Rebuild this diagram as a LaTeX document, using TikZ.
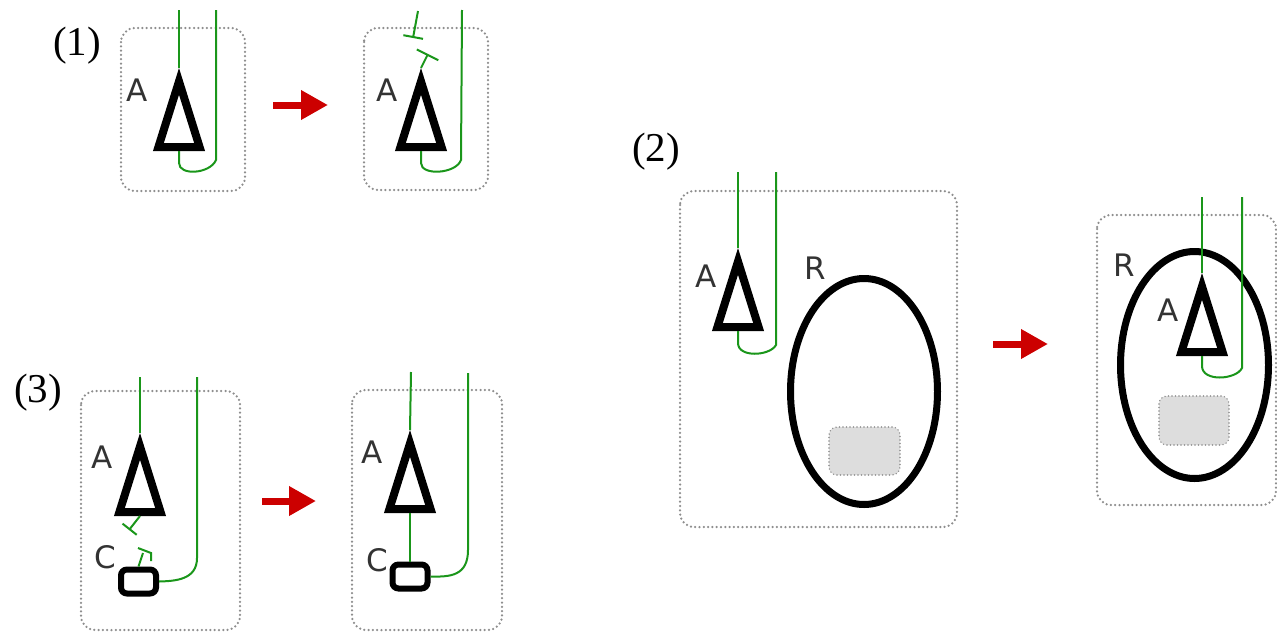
\documentclass[tikz,border=0pt]{standalone}
\usepackage{fontspec}
\setmainfont{Liberation Serif}
\newfontfamily\tagfont{DejaVu Sans}
\usetikzlibrary{arrows.meta,shapes.geometric}
\definecolor{neurite}{HTML}{1A961A}
\definecolor{push}{HTML}{CC0000}
\definecolor{framegray}{HTML}{8E8E8E}
\definecolor{slotgray}{HTML}{DDDDDD}
\definecolor{taggray}{HTML}{333333}

\begin{document}
\begin{tikzpicture}[
  x=1pt,y=-1pt,
  frame/.style={draw=framegray,line width=2.5pt,line cap=round,dash pattern=on 0pt off 4.3pt,rounded corners=14pt},
  wire/.style={draw=neurite,line width=2pt},
  block/.style={-{Bar[width=20pt]}},
  movearrow/.style={draw=push,line width=7pt,-{Triangle[length=27pt,width=28pt]}},
  cell/.style={draw=black,line width=8pt,line join=miter},
  tag/.style={font=\tagfont\fontsize{31}{31}\selectfont,text=taggray,inner sep=0pt},
  panel/.style={font=\fontsize{41}{41}\selectfont,inner sep=0pt},
  cbox/.style={draw=black,line width=6pt,rounded corners=6pt,minimum width=35pt,minimum height=24pt,inner sep=0pt},
  ring/.style={ellipse,draw=black,line width=7pt,minimum width=147pt,minimum height=226pt,inner sep=0pt},
  slot/.style={draw=framegray,fill=slotgray,line width=1.6pt,line cap=round,dash pattern=on 0pt off 3.5pt,rounded corners=8pt,minimum width=71pt,minimum height=48pt,inner sep=0pt},
  soma/.pic={
    \draw[cell] (0,13.4) -- (-20.6,79) -- (20.6,79) -- cycle;
    \coordinate (-top) at (0,0);
    \coordinate (-bot) at (0,83);
  }
]
\useasboundingbox (0,0) rectangle (1277,632);

% (1)
\node[panel] (p1) at (77,46) {(1)};
\draw[frame] (121,28) rectangle (245,191);
\draw[frame] (364,28) rectangle (488,190);
\pic (a1) at (179,68) {soma};
\pic (a1b) at (421,68) {soma};
\node[tag] (t1) at (137,90) {A};
\node[tag] (t1b) at (387,90) {A};
\coordinate (in1) at (179,10);
\coordinate (out1) at (216,10);
\coordinate (in1b) at (418,11);
\coordinate (out1b) at (462,10);
\draw[wire] (in1) -- (a1-top);
\draw[wire] (a1-bot) -- (179,163) .. controls (179,176) and (210,174) .. (216,160) -- (out1);
\draw[wire,block] (in1b) -- (413,38);
\draw[wire,-{Bar[width=24pt]}] (a1b-top) -- (428,54);
\draw[wire] (a1b-bot) -- (421,163) .. controls (421,176) and (456,174) .. (461,160) -- (out1b);
\draw[movearrow] (273,105) -- (328,105);

% (3)
\node[panel] (p3) at (38,393) {(3)};
\draw[frame] (81,391) rectangle (240,630);
\draw[frame] (352,390) rectangle (502,630);
\pic (a3) at (140,433) {soma};
\pic (a3b) at (410,430) {soma};
\node[tag] (t3) at (102,457) {A};
\node[tag] (t3b) at (372.5,452) {A};
\node[tag] (k3) at (105,557) {C};
\node[tag] (k3b) at (377.5,560) {C};
\node[cbox] (c3) at (138.5,581.5) {};
\node[cbox] (c3b) at (410,576.5) {};
\coordinate (in3) at (140,377);
\coordinate (out3) at (197,377);
\coordinate (in3b) at (411,372);
\coordinate (out3b) at (468,373);
\draw[wire] (in3) -- (a3-top);
\draw[wire,-{Bar[width=18pt]}] (a3-bot) -- ++(-11,14);
\draw[wire] (c3.north) -- (143,553);
\draw[wire] (138,548) -- (151,553) -- (151,561);
\draw[wire] (out3) -- (197,558) .. controls (197,580) and (175,581) .. (c3.east);
\draw[wire] (in3b) -- (a3b-top);
\draw[wire] (a3b-bot) -- (c3b.north);
\draw[wire] (out3b) -- (468,550) .. controls (468,576) and (450,577) .. (c3b.east);
\draw[movearrow] (262,501) -- (316,501);

% (2)
\node[panel] (p2) at (656,152) {(2)};
\draw[frame] (680,191) rectangle (957,527);
\draw[frame] (1097,215) rectangle (1276,505);
\node[ring] (r2) at (864,391.5) {};
\node[ring,minimum width=148pt,minimum height=227pt] (r2b) at (1194.5,365) {};
\node[slot] (s2) at (864.5,451) {};
\node[slot,minimum width=70pt,minimum height=49pt] (s2b) at (1194,420.5) {};
\pic (a2) at (738,248) {soma};
\pic (a2b) at (1202,273) {soma};
\node[tag] (t2) at (706.5,276.5) {A};
\node[tag] (t2b) at (1168.5,310) {A};
\node[tag] (q2) at (815.5,268.5) {R};
\node[tag] (q2b) at (1124.5,265.5) {R};
\coordinate (in2) at (738,172);
\coordinate (out2) at (776,172);
\coordinate (in2b) at (1202,197);
\coordinate (out2b) at (1242,197);
\draw[wire] (in2) -- (a2-top);
\draw[wire] (a2-bot) -- (738,343) .. controls (738,358) and (770,356) .. (776,345) -- (out2);
\draw[wire] (in2b) -- (a2b-top);
\draw[wire] (a2b-bot) -- (1202,366) .. controls (1202,382) and (1236,380) .. (1242,368) -- (out2b);
\draw[movearrow] (993,344) -- (1048,344);
\end{tikzpicture}
\end{document}
